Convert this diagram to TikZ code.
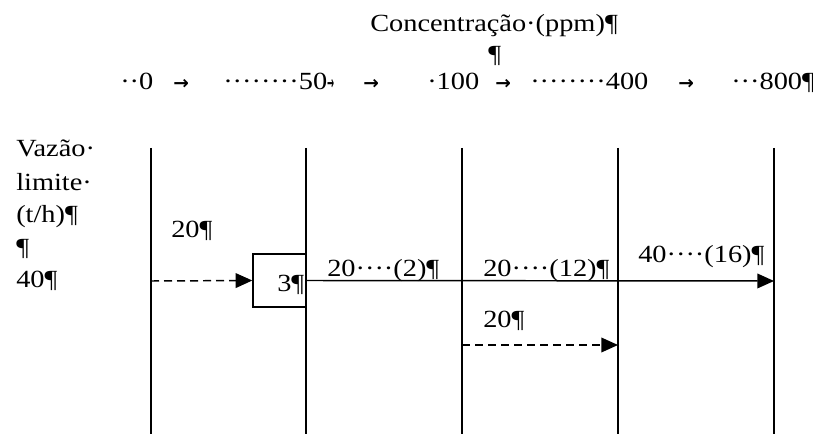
\documentclass[tikz,border=0pt]{standalone}
\usepackage{fontspec}
\setmainfont{Liberation Serif}
\newfontfamily\arrowfont{DejaVu Sans}
\usetikzlibrary{arrows.meta}
\newcommand{\sx}[1]{\scalebox{1.15}[1]{#1}}
\newcommand{\tabar}{{\arrowfont\bfseries\fontsize{14}{16}\selectfont →}}
\begin{document}
\begin{tikzpicture}[x=0.75pt,y=-0.75pt,
  txt/.style={anchor=base west,inner sep=0pt,font=\fontsize{18.5}{22}\selectfont},
  vline/.style={line width=1.1pt},
  flow/.style={line width=1.1pt,-{Triangle[length=12.5pt,width=11pt]}},
  dflow/.style={flow,dash pattern=on 6pt off 3.75pt},
  boxst/.style={draw,line width=1pt,minimum width=39.75pt,minimum height=39.75pt,inner sep=0pt},
]
\useasboundingbox (0,0) rectangle (813,434);
% header
\node[txt] (title) at (370,32) {\sx{Concentração·(ppm)¶}};
\node[txt] (par) at (488,63) {\sx{¶}};
\node[txt] (c0) at (120,90) {\sx{··0}};
\node[txt] (ar1) at (173,90) {\tabar};
\node[txt] (c50) at (223,90) {\sx{········50}\scalebox{0.45}[1]{\tabar}};
\node[txt] (ar2) at (363,90) {\tabar};
\node[txt] (c100) at (427,90) {\sx{·100}};
\node[txt] (ar3) at (495,90) {\tabar};
\node[txt] (c400) at (530,90) {\sx{········400}};
\node[txt] (ar4) at (678,90) {\tabar};
\node[txt] (c800) at (731,90) {\sx{···800¶}};
% left labels
\node[txt] (l1) at (16,157) {\sx{Vazão·}};
\node[txt] (l2) at (16,191) {\sx{limite·}};
\node[txt] (l3) at (16,223) {\sx{(t/h)¶}};
\node[txt] (l4) at (16,256) {\sx{¶}};
\node[txt] (l5) at (16,288) {\sx{40¶}};
% vertical lines
\foreach \i/\x in {1/151,2/306,3/462,4/618,5/774}{
  \coordinate (t\i) at (\x,148);
  \coordinate (b\i) at (\x,434);
  \draw[vline] (t\i) -- (b\i);
}
% box
\node[boxst] (box) at (279.5,280.5) {};
\node[txt] (n3) at (277,292) {\sx{3¶}};
% flows
\coordinate (a1) at (151,281);
\coordinate (a5) at (774,281);
\coordinate (d3) at (462,345);
\coordinate (d4) at (618,345);
\draw[dflow] (a1) -- (box.west);
\draw[flow] (box.east) -- (a5);
\draw[dflow] (d3) -- (d4);
% flow labels
\node[txt] (f20a) at (171,238) {\sx{20¶}};
\node[txt] (f20b) at (327,277) {\sx{20····(2)¶}};
\node[txt] (f20c) at (483,277) {\sx{20····(12)¶}};
\node[txt] (f40) at (638,263) {\sx{40····(16)¶}};
\node[txt] (f20d) at (483,327) {\sx{20¶}};
\end{tikzpicture}
\end{document}
